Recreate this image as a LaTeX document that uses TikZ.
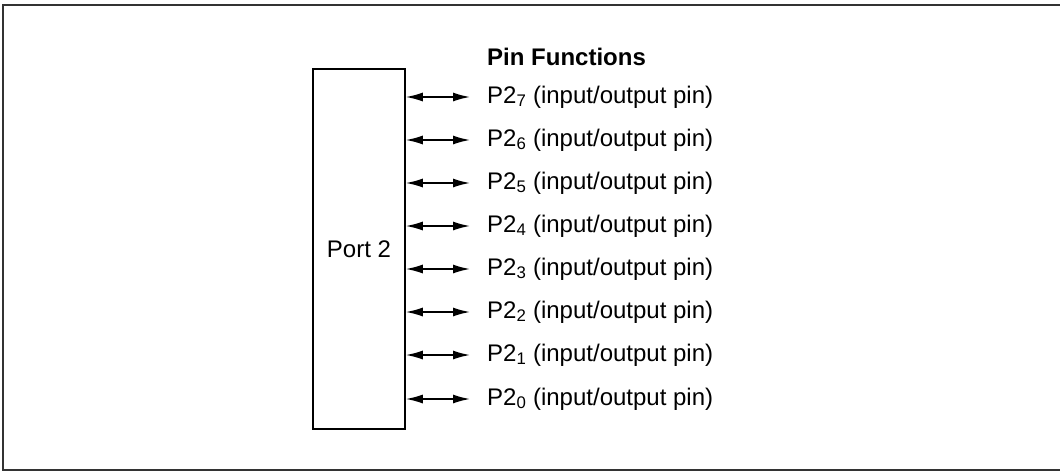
\documentclass[tikz,border=0pt]{standalone}
\usepackage{fontspec}
\setmainfont{Liberation Sans}
\usetikzlibrary{arrows.meta}
\begin{document}
\begin{tikzpicture}[x=1pt,y=-1pt,
  pinarrow/.style={{Latex[length=17pt,width=9pt]}-{Latex[length=17pt,width=9pt]}, line width=1.6pt},
  txt/.style={font=\fontsize{24}{28}\selectfont},
  pinlabel/.style={txt, anchor=west, inner sep=0pt}]
\useasboundingbox (0,0) rectangle (1060,472);
\draw[line width=1.5pt, black!80] (1060,5) -- (3,5) -- (3,470) -- (1060,470);
\node[draw, line width=1.5pt, minimum width=92pt, minimum height=360pt, inner sep=0pt, txt] (port) at (359,249) {Port 2};
\node[anchor=west, inner sep=0pt, txt, font=\fontsize{24}{28}\selectfont\bfseries] (title) at (487,57) {Pin Functions};
\foreach \i/\y in {7/97,6/140,5/183,4/226,3/269,2/312,1/355,0/399}{
  \coordinate (a\i) at (port.east |- 0,\y);
  \node[pinlabel] (l\i) at (487,\y) {P2\textsubscript{\i} (input/output pin)};
  \coordinate (b\i) at (470,\y);
  \draw[pinarrow] (a\i) -- (b\i);
}
\end{tikzpicture}
\end{document}
